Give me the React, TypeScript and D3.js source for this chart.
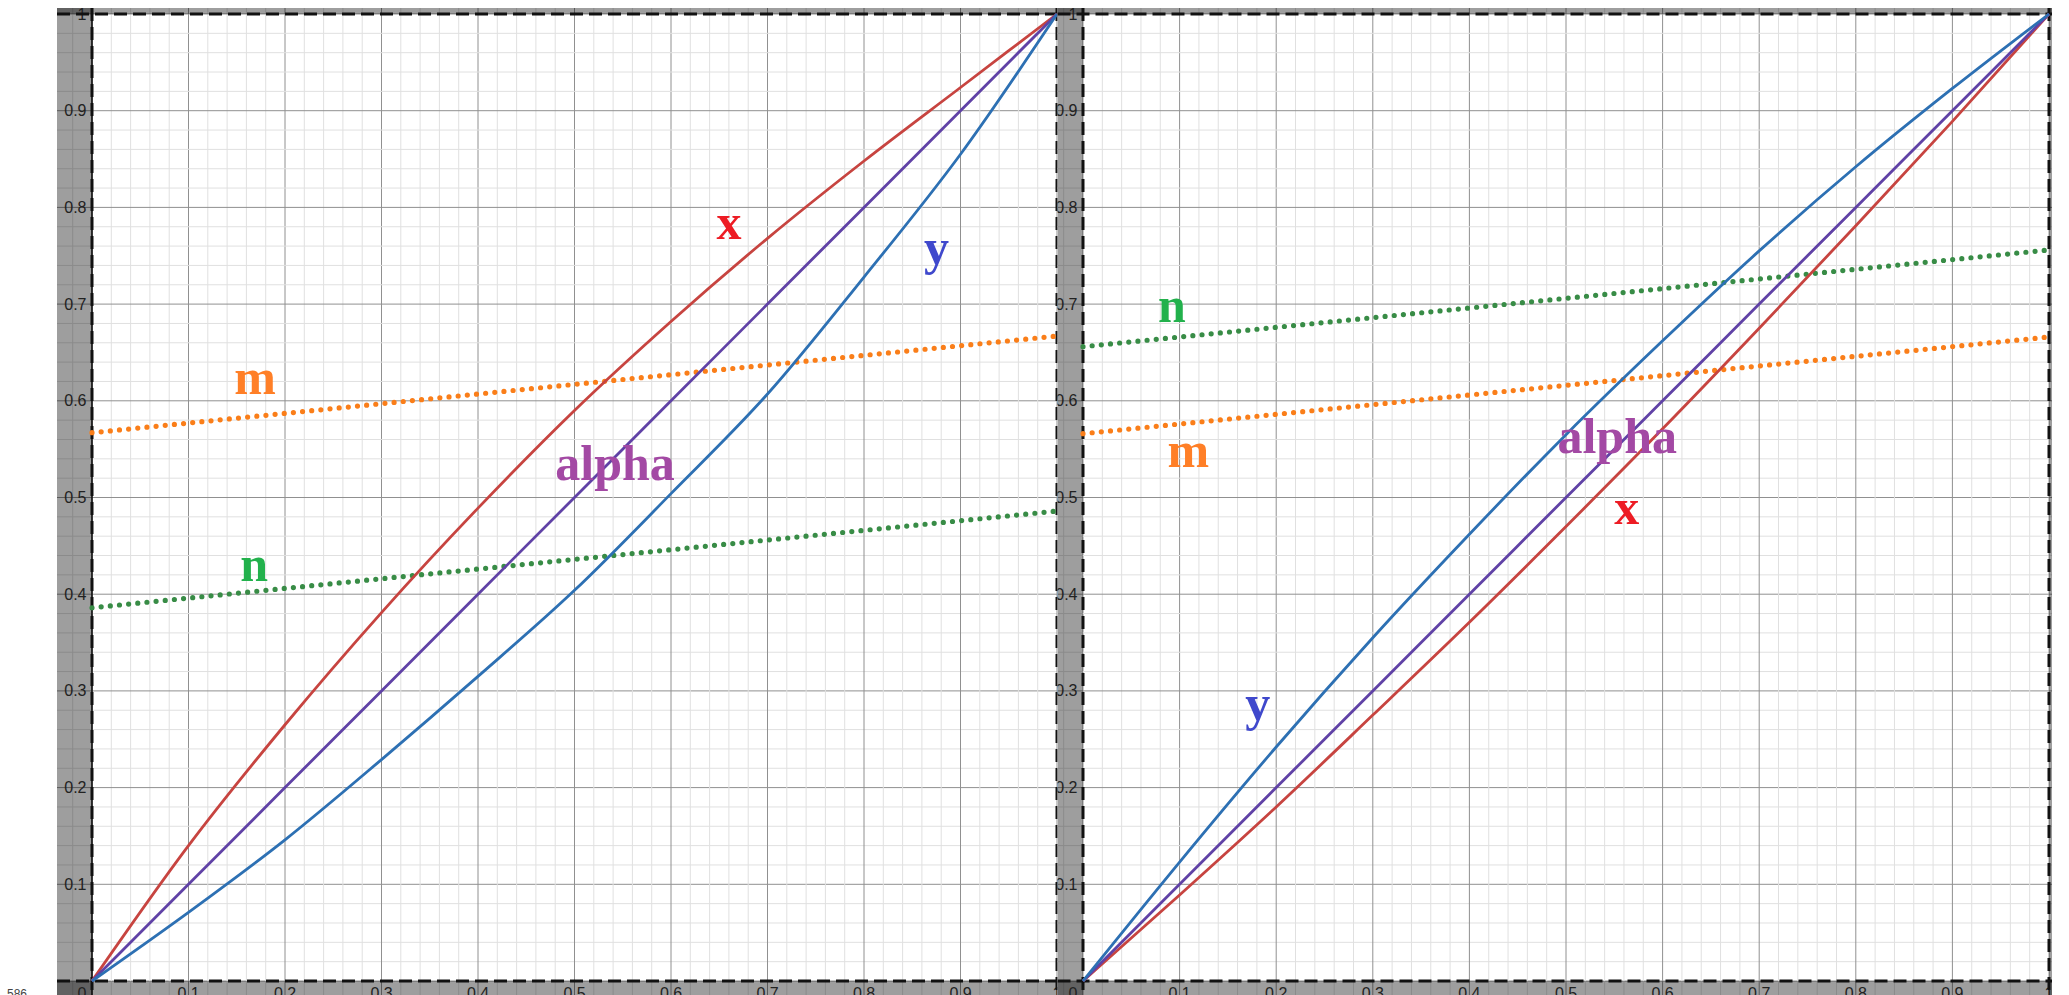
import React from 'react';
import * as d3 from 'd3';

const W = 2069;
const H = 995;

// parameter alpha sampled along the horizontal axis
const alphaGrid = [0, 0.1, 0.2, 0.3, 0.4, 0.5, 0.6, 0.7, 0.8, 0.9, 1];

// left graph
const leftX = [0, 0.14, 0.265, 0.381, 0.489, 0.59, 0.682, 0.768, 0.848, 0.924, 1];
const leftY = [0, 0.071, 0.146, 0.229, 0.315, 0.404, 0.504, 0.607, 0.728, 0.855, 1];
const leftM = [0.567, 0.667];
const leftN = [0.386, 0.486];

// right graph
const rightX = [0, 0.089, 0.18, 0.275, 0.371, 0.47, 0.571, 0.675, 0.781, 0.889, 1];
const rightY = [0, 0.123, 0.242, 0.355, 0.462, 0.565, 0.662, 0.755, 0.842, 0.923, 1];
const rightM = [0.566, 0.666];
const rightN = [0.656, 0.756];

// m and n are straight lines between alpha = 0 and alpha = 1
const lineEnds = [0, 1];

const tickValues = [0.1, 0.2, 0.3, 0.4, 0.5, 0.6, 0.7, 0.8, 0.9];
const tickLabels = ['0.1', '0.2', '0.3', '0.4', '0.5', '0.6', '0.7', '0.8', '0.9'];

const curveColors = { x: '#c74440', y: '#2d70b3', alpha: '#6042a6', m: '#fa7e19', n: '#388c46' };
const textColors = { x: '#ed1c24', y: '#3f48cc', alpha: '#a349a4', m: '#ff7f27', n: '#22b14c' };

type Label = { text: 'x' | 'y' | 'alpha' | 'm' | 'n'; a: number; v: number };

type Panel = {
  id: string;
  range: [number, number];
  clip: [number, number];
  xs: number[];
  ys: number[];
  m: number[];
  n: number[];
  labels: Label[];
  solidAxis: boolean;
};

const panels: Panel[] = [
  {
    id: 'left',
    range: [92, 1057],
    clip: [57, 1057.5],
    xs: leftX,
    ys: leftY,
    m: leftM,
    n: leftN,
    solidAxis: true,
    labels: [
      { text: 'x', a: 0.66, v: 0.767 },
      { text: 'y', a: 0.875, v: 0.741 },
      { text: 'm', a: 0.169, v: 0.607 },
      { text: 'alpha', a: 0.542, v: 0.518 },
      { text: 'n', a: 0.168, v: 0.414 },
    ],
  },
  {
    id: 'right',
    range: [1083, 2049],
    clip: [1057.5, 2052],
    xs: rightX,
    ys: rightY,
    m: rightM,
    n: rightN,
    solidAxis: false,
    labels: [
      { text: 'n', a: 0.092, v: 0.681 },
      { text: 'm', a: 0.109, v: 0.532 },
      { text: 'alpha', a: 0.553, v: 0.546 },
      { text: 'x', a: 0.563, v: 0.473 },
      { text: 'y', a: 0.181, v: 0.27 },
    ],
  },
];

const TOP = 8;
const yScale = d3.scaleLinear().domain([0, 1]).range([981, 14]);
const gridSteps = d3.range(-4, 55);
const tickFont = '"Liberation Sans", Arial, sans-serif';
const labelFont = '"Liberation Serif", "Times New Roman", serif';

function PanelView({ p }: { p: Panel }) {
  const xScale = d3.scaleLinear().domain([0, 1]).range(p.range);
  const [cl, cr] = p.clip;
  const clipId = `clip-${p.id}`;
  const curve = (vals: number[]) =>
    d3
      .line<number>()
      .x((_, i) => xScale(alphaGrid[i]))
      .y((d) => yScale(d))
      .curve(d3.curveMonotoneX)(vals) || '';
  const straight = (vals: number[]) =>
    d3
      .line<number>()
      .x((_, i) => xScale(lineEnds[i]))
      .y((d) => yScale(d))(vals) || '';

  const shade = { fill: '#000', fillOpacity: 0.38 };
  const dash = { stroke: '#111', strokeWidth: 3, strokeDasharray: '13 6', fill: 'none' };

  return (
    <g>
      <clipPath id={clipId}>
        <rect x={cl} y={TOP} width={cr - cl} height={H - TOP} />
      </clipPath>
      <g clipPath={`url(#${clipId})`}>
        <rect x={cl} y={TOP} width={cr - cl} height={H - TOP} fill="#fff" />
        {/* grid: minor every 0.02, major every 0.1 */}
        {gridSteps.map((k) => {
          const v = k / 50;
          const major = k % 5 === 0;
          return (
            <g key={`g${k}`}>
              <line
                x1={xScale(v)}
                x2={xScale(v)}
                y1={TOP}
                y2={H}
                stroke={major ? '#909090' : '#e0e0e0'}
                strokeWidth={1}
              />
              <line
                x1={cl}
                x2={cr}
                y1={yScale(v)}
                y2={yScale(v)}
                stroke={major ? '#909090' : '#e0e0e0'}
                strokeWidth={1}
              />
            </g>
          );
        })}
        {/* shaded regions outside the unit square */}
        <rect x={cl} y={TOP} width={xScale(0) - cl} height={H - TOP} {...shade} />
        <rect x={xScale(1)} y={TOP} width={Math.max(0, cr - xScale(1))} height={H - TOP} {...shade} />
        <rect x={cl} y={yScale(0)} width={cr - cl} height={H - yScale(0)} {...shade} />
        <rect x={cl} y={TOP} width={cr - cl} height={yScale(1) - TOP} {...shade} />
        {/* tick labels */}
        <g fontFamily={tickFont} fontSize={16} fill="#222">
          {tickValues.map((v, i) => (
            <text key={`yl${i}`} x={xScale(0) - 5.5} y={yScale(v)} textAnchor="end" dominantBaseline="central">
              {tickLabels[i]}
            </text>
          ))}
          <text x={xScale(0) - 5.5} y={yScale(1)} textAnchor="end" dominantBaseline="central">
            1
          </text>
          {tickValues.map((v, i) => (
            <text key={`xl${i}`} x={xScale(v)} y={yScale(0) + 17.5} textAnchor="middle">
              {tickLabels[i]}
            </text>
          ))}
          <text x={xScale(0) - 5.5} y={yScale(0) + 17.5} textAnchor="end">
            0
          </text>
          <text x={xScale(1)} y={yScale(0) + 17.5} textAnchor="middle">
            1
          </text>
        </g>
        {p.solidAxis && (
          <line x1={xScale(0)} x2={xScale(0)} y1={TOP} y2={H} stroke="#111" strokeWidth={1.6} />
        )}
        {/* boundary lines of the unit square */}
        <line x1={xScale(0)} x2={xScale(0)} y1={TOP} y2={H} {...dash} />
        <line x1={xScale(1)} x2={xScale(1)} y1={TOP} y2={H} {...dash} />
        <line x1={cl} x2={cr} y1={yScale(0)} y2={yScale(0)} {...dash} />
        <line x1={cl} x2={cr} y1={yScale(1)} y2={yScale(1)} {...dash} />
        {/* dotted constants */}
        <path d={straight(p.m)} stroke={curveColors.m} strokeWidth={5.2} strokeLinecap="round" strokeDasharray="0 9.2" fill="none" />
        <path d={straight(p.n)} stroke={curveColors.n} strokeWidth={5.2} strokeLinecap="round" strokeDasharray="0 9.2" fill="none" />
        {/* curves */}
        <path d={curve(p.xs)} stroke={curveColors.x} strokeWidth={2.8} fill="none" />
        <path d={curve(alphaGrid)} stroke={curveColors.alpha} strokeWidth={2.8} fill="none" />
        <path d={curve(p.ys)} stroke={curveColors.y} strokeWidth={2.8} fill="none" />
        {/* curve names */}
        <g fontFamily={labelFont} fontWeight={700} fontSize={50}>
          {p.labels.map((l, i) => (
            <text key={`lab${i}`} x={xScale(l.a)} y={yScale(l.v)} textAnchor="middle" fill={textColors[l.text]}>
              {l.text}
            </text>
          ))}
        </g>
      </g>
    </g>
  );
}

export default function App() {
  return (
    <svg
      width={W}
      height={H}
      viewBox={`0 0 ${W} ${H}`}
      style={{ position: 'absolute', left: 0, top: 0, background: '#fff' }}
    >
      <rect x={0} y={0} width={W} height={H} fill="#fff" />
      {panels.map((p) => (
        <PanelView key={p.id} p={p} />
      ))}
      <text x={7} y={998} fontFamily={tickFont} fontSize={12} fill="#444">
        586
      </text>
    </svg>
  );
}
